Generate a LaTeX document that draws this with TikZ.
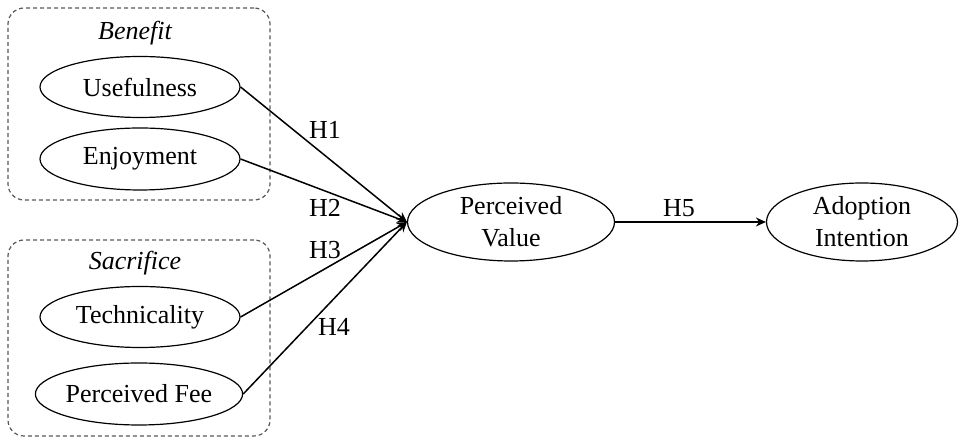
\documentclass[tikz,border=0pt]{standalone}
\usepackage{fontspec}
\setmainfont{Liberation Serif}
\usepackage{tikz}
\usetikzlibrary{positioning,arrows.meta,shapes.geometric}

\begin{document}
\begin{tikzpicture}[x=0.5pt, y=-0.5pt, font=\fontsize{13}{16}\selectfont,
   construct/.style={draw, ellipse, inner sep=0pt, line width=0.6pt, align=center},
   group/.style={draw=black!65, dash pattern=on 2pt off 1.5pt, line width=0.6pt, rounded corners=8pt, inner sep=0pt},
   grouplbl/.style={font=\fontsize{13}{16}\selectfont\itshape},
   hlbl/.style={inner sep=1pt},
   path/.style={-{Stealth[length=5pt, width=4.5pt]}, line width=0.75pt}]
  \useasboundingbox (0,0) rectangle (965,437);

  % groups (dashed boxes)
  \node[group, minimum width=131pt, minimum height=96pt] (benefit) at (139,104) {};
  \node[group, minimum width=131pt, minimum height=98pt] (sacrifice) at (139,338) {};
  \node[grouplbl] (benlbl) at (135,33) {Benefit};
  \node[grouplbl] (saclbl) at (135,263) {Sacrifice};

  % antecedents
  \node[construct, minimum width=100pt, minimum height=30.5pt] (use) at (140,87) {Usefulness};
  \node[construct, minimum width=100pt, minimum height=31pt] (enj) at (140,159) {Enjoyment};
  \node[construct, minimum width=100pt, minimum height=30.5pt] (tech) at (140,317) {Technicality};
  \node[construct, minimum width=101pt, minimum height=31pt] (fee) at (139,394) {Perceived Fee};

  % value and intention
  \node[construct, minimum width=103.5pt, minimum height=39pt] (pv) at (511,222) {Perceived\\Value};
  \node[construct, minimum width=95.5pt, minimum height=39pt] (ai) at (862,222) {Adoption\\Intention};

  % hypotheses
  \draw[path] (use.east) -- (pv.west);
  \draw[path] (enj.east) -- (pv.west);
  \draw[path] (tech.east) -- (pv.west);
  \draw[path] (fee.east) -- (pv.west);
  \draw[path] (pv) -- (ai);

  \node[hlbl] (h1) at (325,130) {H1};
  \node[hlbl] (h2) at (325,208) {H2};
  \node[hlbl] (h3) at (325,250) {H3};
  \node[hlbl] (h4) at (334,327) {H4};
  \node[hlbl] (h5) at (679,208) {H5};
\end{tikzpicture}
\end{document}
